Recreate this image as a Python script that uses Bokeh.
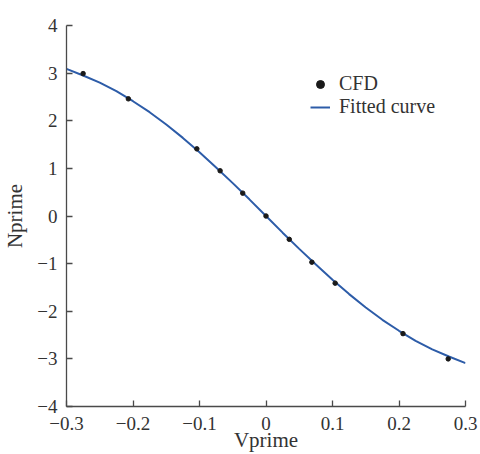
from bokeh.plotting import figure
from bokeh.models import FixedTicker, CustomJSTickFormatter, Range1d, Legend
from bokeh.embed import file_html
from bokeh.resources import INLINE

# CFD data points
cfd_v = [-0.275, -0.207, -0.104, -0.069, -0.035, 0.0, 0.035, 0.069, 0.104, 0.206, 0.274]
cfd_n = [2.99, 2.46, 1.41, 0.95, 0.48, 0.0, -0.49, -0.97, -1.41, -2.47, -3.00]

# Fitted curve
fit_v = [-0.3, -0.275, -0.25, -0.225, -0.2, -0.175, -0.15, -0.125, -0.1, -0.075, -0.05, -0.025,
         0.0, 0.025, 0.05, 0.075, 0.1, 0.125, 0.15, 0.175, 0.2, 0.225, 0.25, 0.275, 0.3]
fit_n = [3.09, 2.95, 2.80, 2.62, 2.41, 2.18, 1.92, 1.64, 1.34, 1.02, 0.69, 0.35,
         0.0, -0.35, -0.69, -1.02, -1.34, -1.64, -1.92, -2.18, -2.41, -2.62, -2.80, -2.95, -3.09]

x_ticks = [-0.3, -0.2, -0.1, 0.0, 0.1, 0.2, 0.3]
y_ticks = [-4, -3, -2, -1, 0, 1, 2, 3, 4]
x_label = "Vprime"
y_label = "Nprime"
legend_labels = ["CFD", "Fitted curve"]

SERIF = "Liberation Serif"
AXIS_COL = "#4a4a4a"
TEXT_COL = "#333333"

p = figure(width=480, height=454, output_backend="svg", toolbar_location=None,
           x_range=Range1d(-0.3, 0.3), y_range=Range1d(-4, 4),
           min_border_left=66, min_border_right=15, min_border_top=25, min_border_bottom=48)
p.outline_line_color = None
p.grid.visible = False
p.background_fill_color = "white"
p.border_fill_color = "white"

fmt = CustomJSTickFormatter(code="""
const a = parseFloat(Math.abs(tick).toFixed(2)).toString();
return (tick < -1e-9 ? '\\u2212' : '') + a;
""")

for ax, ticks in ((p.xaxis[0], x_ticks), (p.yaxis[0], y_ticks)):
    ax.ticker = FixedTicker(ticks=ticks)
    ax.formatter = fmt
    ax.minor_tick_line_color = None
    ax.major_tick_in = 6
    ax.major_tick_out = 0
    ax.axis_line_color = AXIS_COL
    ax.axis_line_width = 1.3
    ax.major_tick_line_color = AXIS_COL
    ax.major_tick_line_width = 1.3
    ax.major_label_text_font = SERIF
    ax.major_label_text_font_size = "19px"
    ax.major_label_text_color = TEXT_COL
    ax.axis_label_text_font = SERIF
    ax.axis_label_text_font_size = "21px"
    ax.axis_label_text_font_style = "normal"
    ax.axis_label_text_color = TEXT_COL

p.xaxis.axis_label = x_label
p.yaxis.axis_label = y_label
p.xaxis.major_label_standoff = 10
p.xaxis.axis_label_standoff = -5
p.yaxis.major_label_standoff = 9
p.yaxis.axis_label_standoff = 7

r_fit = p.line(fit_v, fit_n, line_color="#2d5ca8", line_width=2)
r_cfd = p.scatter(cfd_v, cfd_n, size=4.5, fill_color="#1a1a1a", line_color="#1a1a1a")


def make_legend(label, renderer, loc):
    lg = Legend(items=[(label, [renderer])], location=loc)
    lg.border_line_color = None
    lg.background_fill_alpha = 0
    lg.padding = 0
    lg.margin = 0
    lg.spacing = 0
    lg.glyph_width = 20
    lg.glyph_height = 20
    lg.label_height = 20
    lg.label_standoff = 9
    lg.label_text_font = SERIF
    lg.label_text_font_size = "20px"
    lg.label_text_color = TEXT_COL
    p.add_layout(lg, "center")


make_legend(legend_labels[0], r_cfd, (244, 311))
make_legend(legend_labels[1], r_fit, (244, 288))

open("out.html", "w").write(file_html(p, INLINE))
